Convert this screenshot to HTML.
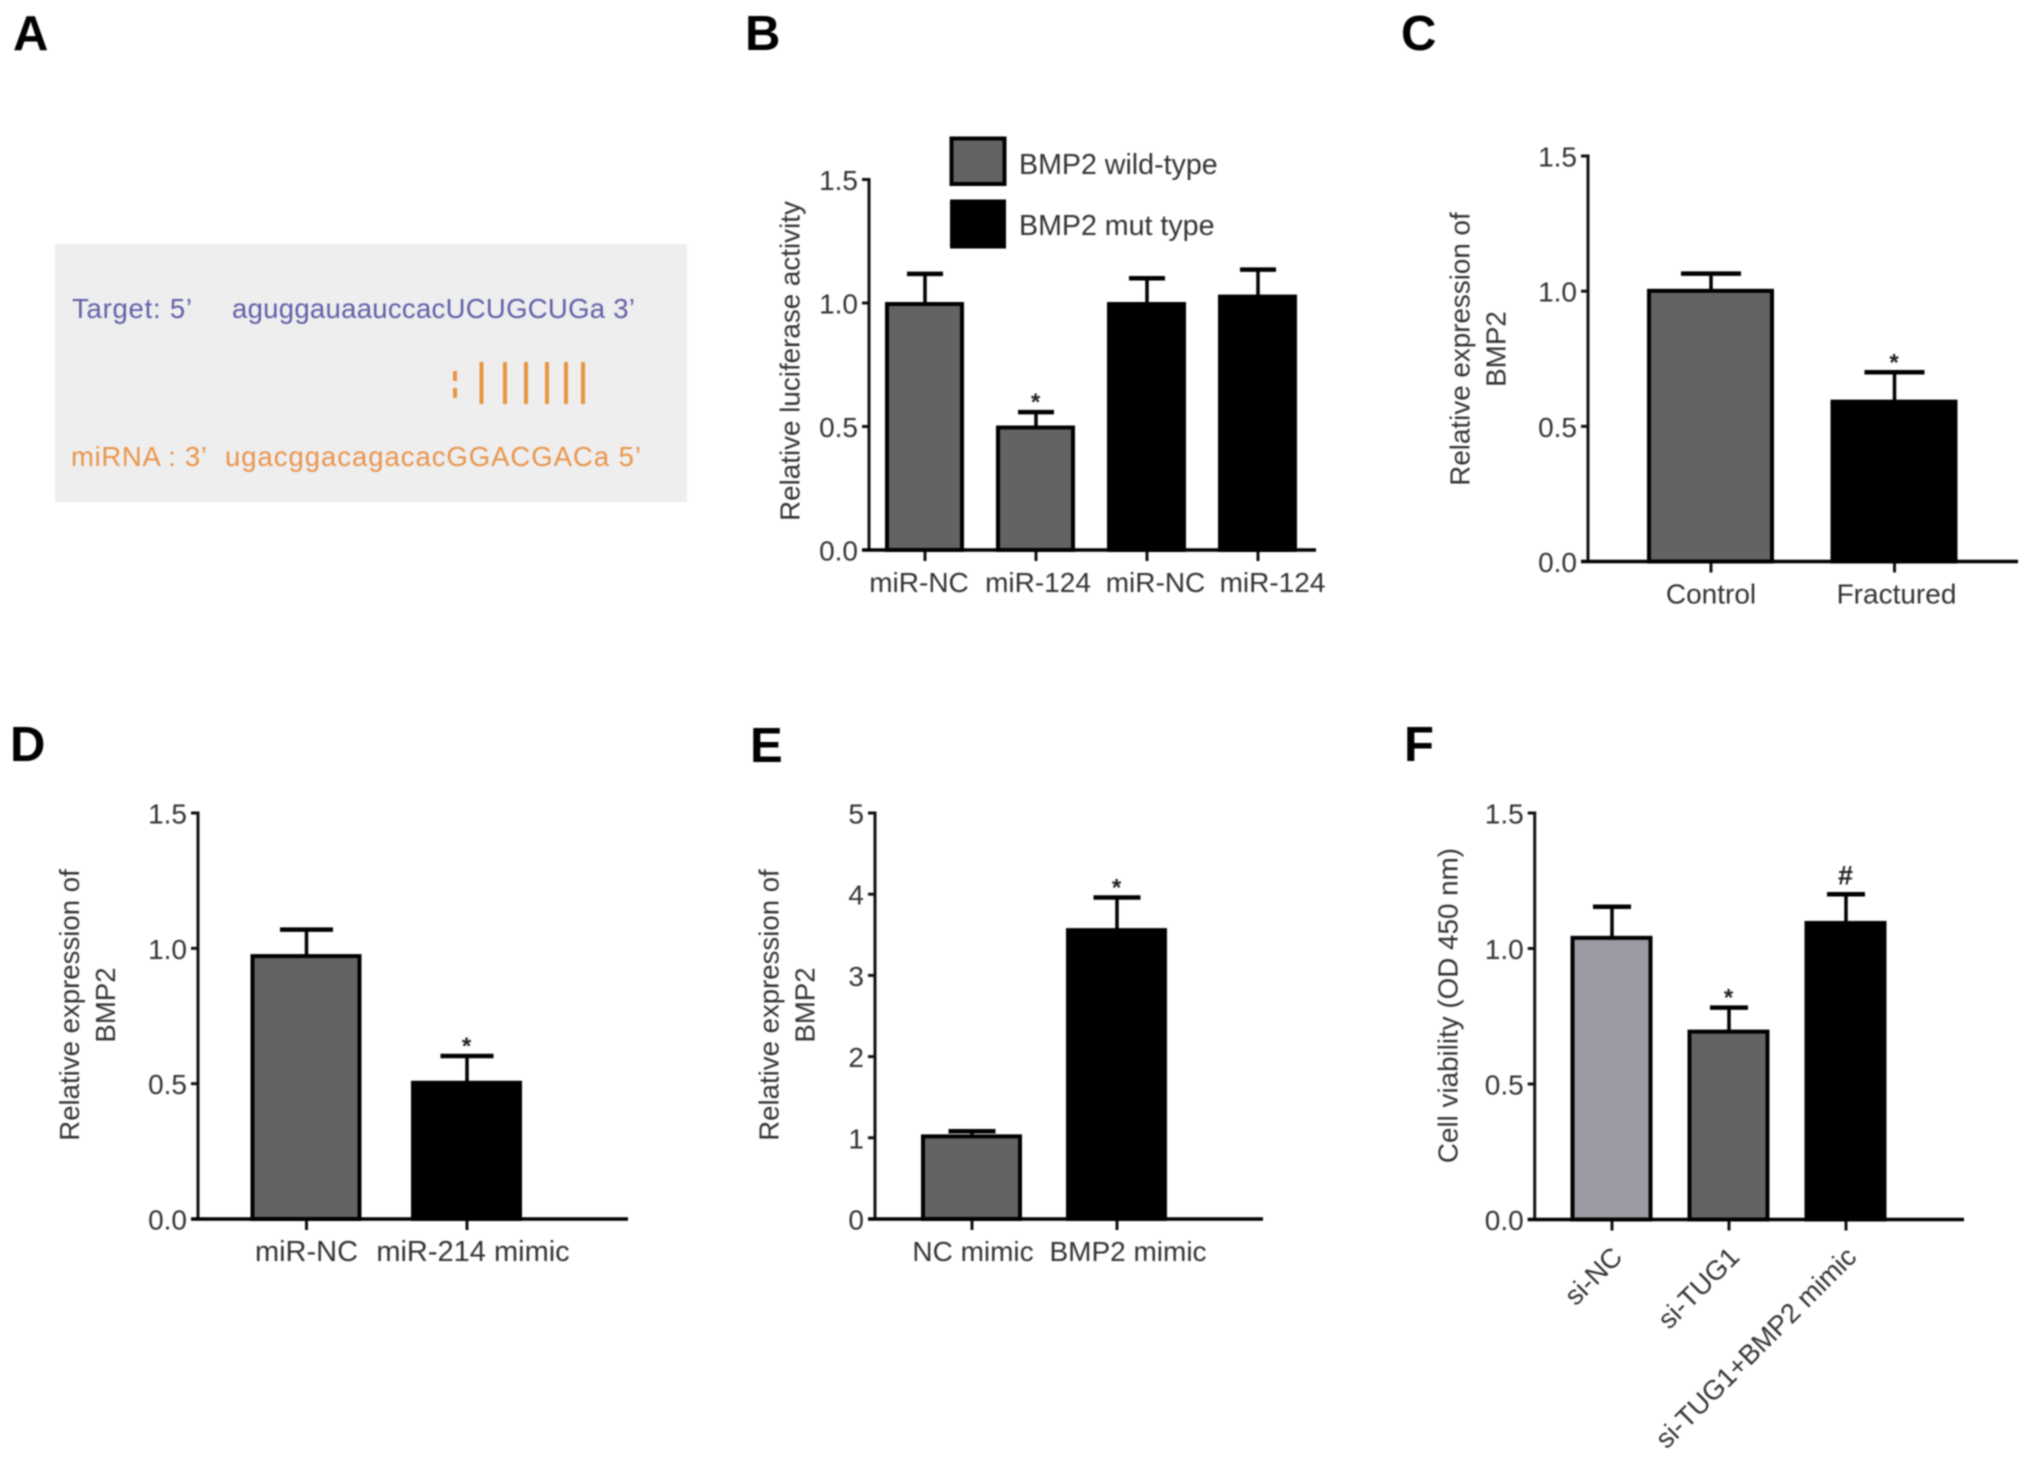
<!DOCTYPE html>
<html lang="en">
<head>
<meta charset="utf-8">
<title>BMP2 figure panels A–F</title>
<style>
html,body{margin:0;padding:0;background:#fff;width:2031px;height:1465px;overflow:hidden}
svg{display:block;filter:blur(.7px)}
text{font-family:"Liberation Sans",sans-serif;fill:#333}
.letter{font-weight:700;font-size:49px;fill:#000}
.seq{font-size:27.5px}
</style>
</head>
<body>
<svg id="figure" xmlns="http://www.w3.org/2000/svg" width="2031" height="1465" viewBox="0 0 2031 1465">
  <rect width="2031" height="1465" fill="#fff"/>
  <text class="letter" x="13" y="50">A</text>
  <text class="letter" x="745" y="50">B</text>
  <text class="letter" x="1401" y="50">C</text>
  <text class="letter" x="10" y="761">D</text>
  <text class="letter" x="750" y="762">E</text>
  <text class="letter" x="1404" y="761">F</text>

  <g>
    <rect x="55" y="244" width="632" height="258" fill="#eeeeef"/>
    <text class="seq" x="72" y="318" style="fill:#5f5fa8" textLength="120">Target: 5’</text>
    <text class="seq" x="232" y="318" style="fill:#5f5fa8" textLength="403">aguggauaauccacUCUGCUGa 3’</text>
    <text class="seq" x="71" y="466" style="fill:#e8954a" textLength="136">miRNA : 3’</text>
    <text class="seq" x="225" y="466" style="fill:#e8954a" textLength="416">ugacggacagacacGGACGACa 5’</text>
    <g stroke="#e8943f" stroke-width="4">
      <line x1="455" y1="371" x2="455" y2="381"/>
      <line x1="455" y1="388" x2="455" y2="398"/>
      <line x1="481.5" y1="362" x2="481.5" y2="404"/>
      <line x1="505" y1="362" x2="505" y2="404"/>
      <line x1="526" y1="362" x2="526" y2="404"/>
      <line x1="547" y1="362" x2="547" y2="404"/>
      <line x1="566" y1="362" x2="566" y2="404"/>
      <line x1="583" y1="362" x2="583" y2="404"/>
    </g>
  </g>

  <g>
    <rect x="951.5" y="138.5" width="53" height="45.5" fill="#636363" stroke="#000" stroke-width="4"/>
    <text x="1019" y="174" font-size="28.6">BMP2 wild-type</text>
    <rect x="950" y="199.5" width="56" height="49" fill="#000"/>
    <text x="1019" y="235" font-size="28.6">BMP2 mut type</text>
  </g>
</svg>

<script>
// Panel B data
const bCategories = ['miR-NC', 'miR-124', 'miR-NC', 'miR-124'];
const bValues = [1.0, 0.5, 1.0, 1.03];
const bErrors = [0.118, 0.058, 0.10, 0.105];
const bMarks = ['', '*', '', ''];
const bTicks = ['0.0', '0.5', '1.0', '1.5'];

// Panel C data
const cCategories = ['Control', 'Fractured'];
const cValues = [1.005, 0.595];
const cErrors = [0.06, 0.105];
const cMarks = ['', '*'];
const cTicks = ['0.0', '0.5', '1.0', '1.5'];

// Panel D data
const dCategories = ['miR-NC', 'miR-214 mimic'];
const dValues = [0.975, 0.507];
const dErrors = [0.094, 0.095];
const dMarks = ['', '*'];
const dTicks = ['0.0', '0.5', '1.0', '1.5'];

// Panel E data
const eCategories = ['NC mimic', 'BMP2 mimic'];
const eValues = [1.03, 3.57];
const eErrors = [0.05, 0.39];
const eMarks = ['', '*'];
const eTicks = ['0', '1', '2', '3', '4', '5'];

// Panel F data
const fCategories = ['si-NC', 'si-TUG1', 'si-TUG1+BMP2 mimic'];
const fValues = [1.043, 0.697, 1.098];
const fErrors = [0.111, 0.085, 0.102];
const fMarks = ['', '*', '#'];
const fTicks = ['0.0', '0.5', '1.0', '1.5'];

const GREY = '#636363', BLACK = '#000000', LIGHT = '#9b9aa3';
const SVG_NS = 'http://www.w3.org/2000/svg';
const figure = document.getElementById('figure');

function mk(parent, tag, attrs, content) {
  const el = document.createElementNS(SVG_NS, tag);
  for (const k in attrs) el.setAttribute(k, attrs[k]);
  if (content !== undefined) el.textContent = content;
  parent.appendChild(el);
  return el;
}

function drawPanel(p) {
  const g = mk(figure, 'g', {});
  
  

  // axis functions
  const yScale = v => p.y0 - (v / p.yMax) * (p.y0 - p.yTop);
  const xScale = i => p.x0 + i * p.step;

  // y title
  p.title.forEach((line, k) => {
    const cx = p.titleX[k];
    const t = mk(g, 'text', {x: cx, y: p.titleY, 'font-size': p.titleSize, 'text-anchor': 'middle',
      'dominant-baseline': 'central', transform: 'rotate(-90 ' + cx + ' ' + p.titleY + ')'}, line);
    
    
  });

  // bars with error bars
  p.values.forEach((v, i) => {
    const cx = xScale(i);
    const top = yScale(v);
    const errTop = yScale(v + p.errors[i]);

    const stem = mk(g, 'line', {x1: cx, x2: cx, y1: top + 2, y2: errTop, stroke: '#000', 'stroke-width': 3.5});
    
    

    const cap = mk(g, 'line', {x1: cx - p.capW / 2, x2: cx + p.capW / 2, y1: errTop, y2: errTop, stroke: '#000', 'stroke-width': 4.5});
    
    

    const bar = mk(g, 'rect', {x: cx - p.barW / 2 + 1, y: top + 1, width: p.barW - 3, height: Math.max(0, p.y0 - top - 1),
      fill: p.colors[i], stroke: '#000', 'stroke-width': 4});
    
    

    if (p.marks[i]) {
      const isHash = p.marks[i] === '#';
      const m = mk(g, 'text', {x: cx - 0.5, y: errTop + (isHash ? -10 : -2), 'text-anchor': 'middle',
        'font-size': isHash ? 27 : 24, 'font-weight': 700, style: 'fill:#222'}, p.marks[i]);
      
      
    }

    const tick = mk(g, 'line', {x1: cx, x2: cx, y1: p.y0, y2: p.y0 + 11, stroke: '#111', 'stroke-width': 3});
    
    

    let label;
    if (p.rotated) {
      const lx = cx + 12, ly = p.y0 + 39;
      label = mk(g, 'text', {x: lx, y: ly, 'font-size': p.fontSize, 'text-anchor': 'end',
        transform: 'rotate(-45 ' + lx + ' ' + ly + ')'}, p.categories[i]);
    } else {
      label = mk(g, 'text', {x: cx + p.labelShift[i], y: p.y0 + 42, 'font-size': p.fontSize, 'text-anchor': 'middle'}, p.categories[i]);
    }
    
    
  });

  // y ticks and labels
  p.ticks.forEach((lab, i) => {
    const ty = yScale(Number(lab));
    const tick = mk(g, 'line', {x1: p.axisX - 7, x2: p.axisX, y1: ty, y2: ty, stroke: '#111', 'stroke-width': 3});
    
    
    const t = mk(g, 'text', {x: p.axisX - 11, y: ty + 10.5, 'font-size': p.tickSize, 'text-anchor': 'end'}, lab);
    
    
  });

  // axes
  const ya = mk(g, 'line', {x1: p.axisX, x2: p.axisX, y1: p.yTop - 1.5, y2: p.y0 + 1, stroke: '#111', 'stroke-width': 3});
  
  
  const xa = mk(g, 'line', {x1: p.axisX - 7, x2: p.axisEnd, y1: p.y0, y2: p.y0, stroke: '#000', 'stroke-width': 3.5});
  
  
}

drawPanel({id: 'b', categories: bCategories, values: bValues, errors: bErrors, marks: bMarks, ticks: bTicks,
  colors: [GREY, GREY, BLACK, BLACK], yMax: 1.5, y0: 550, yTop: 179.5, axisX: 869, axisEnd: 1316,
  x0: 925, step: 111, barW: 78, capW: 36, labelShift: [-6, 2, 8.5, 14.5], fontSize: 28, tickSize: 28,
  title: ['Relative luciferase activity'], titleX: [790], titleY: 361, titleSize: 27.8});

drawPanel({id: 'c', categories: cCategories, values: cValues, errors: cErrors, marks: cMarks, ticks: cTicks,
  colors: [GREY, BLACK], yMax: 1.5, y0: 561.5, yTop: 156, axisX: 1588, axisEnd: 2018,
  x0: 1711, step: 183.5, barW: 126, capW: 60, labelShift: [0, 2], fontSize: 28, tickSize: 28,
  title: ['Relative expression of', 'BMP2'], titleX: [1460, 1496], titleY: 349, titleSize: 27.8});

drawPanel({id: 'd', categories: dCategories, values: dValues, errors: dErrors, marks: dMarks, ticks: dTicks,
  colors: [GREY, BLACK], yMax: 1.5, y0: 1219, yTop: 813, axisX: 198, axisEnd: 628,
  x0: 306.5, step: 160.5, barW: 110, capW: 53, labelShift: [0, 6], fontSize: 29, tickSize: 28,
  title: ['Relative expression of', 'BMP2'], titleX: [69.5, 105.5], titleY: 1005, titleSize: 27.6});

drawPanel({id: 'e', categories: eCategories, values: eValues, errors: eErrors, marks: eMarks, ticks: eTicks,
  colors: [GREY, BLACK], yMax: 5, y0: 1219, yTop: 813, axisX: 875, axisEnd: 1263,
  x0: 972, step: 145, barW: 100, capW: 47, labelShift: [1, 11], fontSize: 28, tickSize: 28,
  title: ['Relative expression of', 'BMP2'], titleX: [769, 805], titleY: 1005, titleSize: 27.6});

drawPanel({id: 'f', categories: fCategories, values: fValues, errors: fErrors, marks: fMarks, ticks: fTicks,
  colors: [LIGHT, GREY, BLACK], yMax: 1.5, y0: 1219.5, yTop: 813, axisX: 1534.7, axisEnd: 1964,
  x0: 1612, step: 117, barW: 81, capW: 38, rotated: true, fontSize: 27.3, tickSize: 28,
  title: ['Cell viability (OD 450 nm)'], titleX: [1448], titleY: 1005.5, titleSize: 27.8});
</script>
</body>
</html>
